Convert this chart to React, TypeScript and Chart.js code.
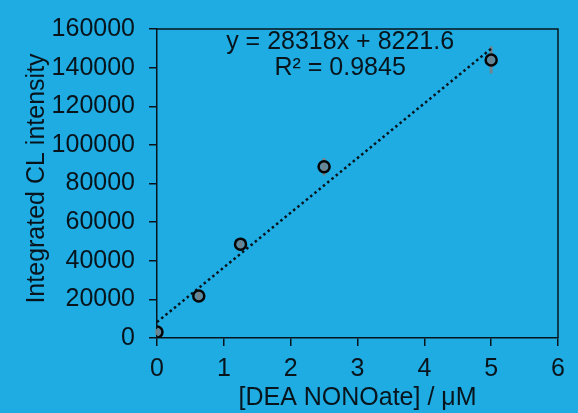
import React, { useEffect, useRef } from "react";
import { Chart, registerables } from "chart.js";

Chart.register(...registerables);

const concentrations = [0, 0.625, 1.25, 2.5, 5];
const intensities = [3100, 21700, 48600, 88700, 144000];
const errors = [1500, 2500, 1500, 4500, 7000];
const slope = 28318;
const intercept = 8221.6;
const trendX = [0, 5];
const equationLines = ["y = 28318x + 8221.6", "R² = 0.9845"];
const xTicks = [0, 1, 2, 3, 4, 5, 6];
const yTitle = "Integrated CL intensity";
const xTitle = "[DEA NONOate] / μM";

const BG = "#1eace3";
const INK = "#08141c";
const FONT = "'Liberation Sans', Arial, sans-serif";

const bgPlugin = {
  id: "bg",
  beforeDraw(chart: any) {
    const { ctx, width, height } = chart;
    ctx.save();
    ctx.fillStyle = BG;
    ctx.fillRect(0, 0, width, height);
    ctx.restore();
  },
};

const boxPlugin = {
  id: "box",
  afterDatasetsDraw(chart: any) {
    const { ctx, chartArea } = chart;
    const xs = chart.scales.x;
    const ys = chart.scales.y;
    ctx.save();
    ctx.strokeStyle = INK;
    ctx.lineWidth = 1.5;
    ctx.beginPath();
    ctx.moveTo(chartArea.left, chartArea.top);
    ctx.lineTo(chartArea.right, chartArea.top);
    ctx.lineTo(chartArea.right, chartArea.bottom);
    ctx.stroke();
    ctx.fillStyle = INK;
    ctx.font = `25px ${FONT}`;
    ctx.textAlign = "center";
    ctx.textBaseline = "middle";
    const cx = xs.getPixelForValue(2.74);
    ctx.fillText(equationLines[0], cx, ys.getPixelForValue(153400));
    ctx.fillText(equationLines[1], cx, ys.getPixelForValue(139600));
    // y axis title
    ctx.translate(37, (chartArea.top + chartArea.bottom) / 2 - 5);
    ctx.rotate(-Math.PI / 2);
    ctx.fillText(yTitle, 0, 0);
    ctx.restore();
  },
};

const errorBarPlugin = {
  id: "errbars",
  beforeDatasetsDraw(chart: any) {
    const { ctx } = chart;
    const xs = chart.scales.x;
    const ys = chart.scales.y;
    ctx.save();
    ctx.strokeStyle = "rgba(120,130,135,0.95)";
    ctx.lineWidth = 3;
    concentrations.forEach((c, i) => {
      const px = xs.getPixelForValue(c);
      const top = ys.getPixelForValue(intensities[i] + errors[i]);
      const bot = ys.getPixelForValue(intensities[i] - errors[i]);
      ctx.beginPath();
      ctx.moveTo(px, top);
      ctx.lineTo(px, bot);
      ctx.stroke();
    });
    ctx.restore();
  },
};

export default function App() {
  const ref = useRef<HTMLCanvasElement | null>(null);
  useEffect(() => {
    document.body.style.margin = "0";
    const canvas = ref.current!;
    const chart = new Chart(canvas, {
      type: "scatter",
      data: {
        datasets: [
          {
            label: "trend",
            data: trendX.map((x) => ({ x, y: slope * x + intercept })),
            showLine: true,
            borderColor: INK,
            borderWidth: 2.5,
            borderDash: [2.5, 3],
            pointRadius: 0,
            order: 2,
          },
          {
            label: "data",
            data: concentrations.map((x, i) => ({ x, y: intensities[i] })),
            pointRadius: 5.5,
            pointBackgroundColor: "rgba(110,130,140,0.75)",
            pointBorderColor: "#050505",
            pointBorderWidth: 2.5,
            order: 1,
          },
        ],
      },
      options: {
        animation: false,
        responsive: false,
        devicePixelRatio: 1,
        layout: { padding: { left: 0, right: 20, top: 18, bottom: 0 } },
        plugins: {
          legend: { display: false },
          tooltip: { enabled: false },
        },
        scales: {
          x: {
            type: "linear",
            min: 0,
            max: 6,
            afterBuildTicks(scale: any) {
              scale.ticks = xTicks.map((v) => ({ value: v }));
            },
            afterFit(scale: any) {
              scale.height = 75;
            },
            ticks: {
              color: INK,
              font: { family: FONT, size: 25 },
              padding: 8,
              maxRotation: 0,
              callback: (v: any) => String(v),
            },
            grid: {
              drawOnChartArea: false,
              drawTicks: true,
              tickLength: 8,
              color: INK,
              lineWidth: 1.5,
            },
            border: { color: INK, width: 1.5 },
            title: {
              display: true,
              text: xTitle,
              color: INK,
              font: { family: FONT, size: 25 },
              padding: { top: 0, bottom: 0 },
            },
          },
          y: {
            type: "linear",
            min: 0,
            max: 160000,
            ticks: {
              stepSize: 20000,
              color: INK,
              font: { family: FONT, size: 25 },
              padding: 14,
              callback: (v: any) => String(v),
            },
            afterFit(scale: any) {
              scale.width = 157;
            },
            grid: {
              drawOnChartArea: false,
              drawTicks: true,
              tickLength: 8,
              color: INK,
              lineWidth: 1.5,
            },
            border: { color: INK, width: 1.5 },
            title: { display: false },
          },
        },
      },
      plugins: [bgPlugin, errorBarPlugin, boxPlugin],
    });
    return () => chart.destroy();
  }, []);
  return (
    <div style={{ width: 578, height: 413 }}>
      <canvas ref={ref} width={578} height={413} style={{ display: "block" }} />
    </div>
  );
}
